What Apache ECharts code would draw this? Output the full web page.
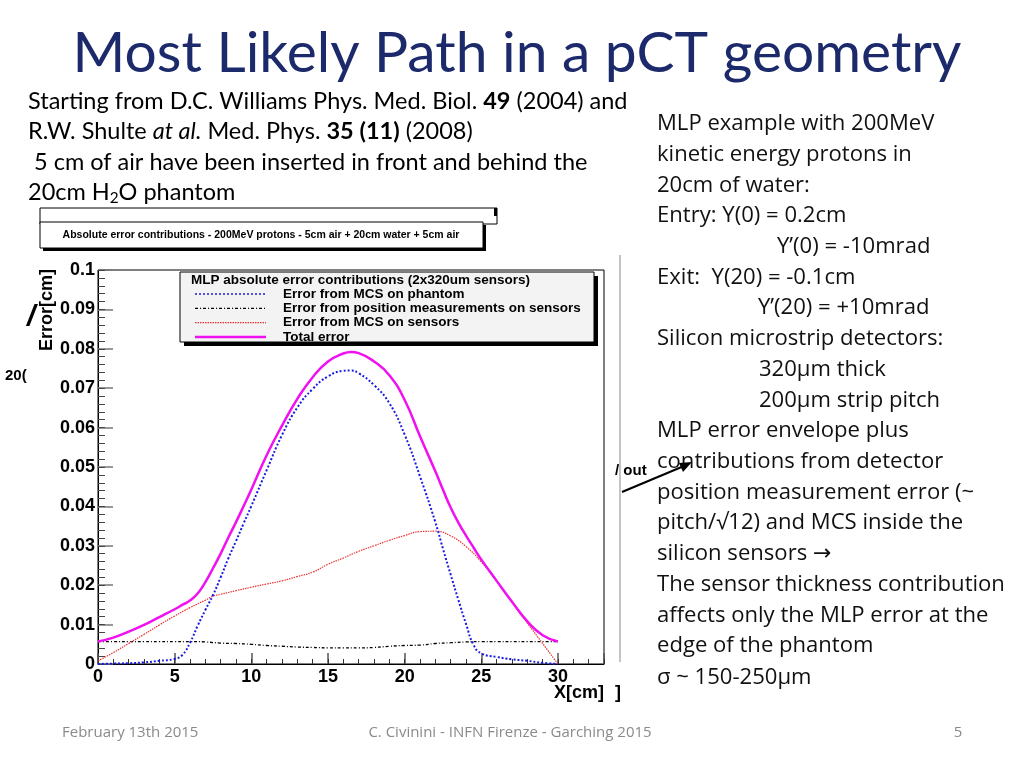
<!DOCTYPE html>
<html><head><meta charset="utf-8">
<script src="https://cdn.jsdelivr.net/npm/echarts@6/dist/echarts.min.js"></script>
<style>html,body{margin:0;padding:0;background:#fff}#c{width:1024px;height:768px}</style>
</head><body><div id="c"></div>
<script>
// ---- data (x in cm, errors in cm) ----
const xCm = [0,1,2,3,4,5,5.5,6,6.5,7,7.5,8,8.5,9,9.5,10,11,12,13,14,15,16,16.5,17,18,19,20,21,22,22.5,23,23.5,24,24.5,25,26,27,28,29,30];
const totalError = [0.0057,0.0067,0.0082,0.0099,0.0119,0.0139,0.0150,0.0161,0.0179,0.0208,0.0243,0.0280,0.0321,0.0360,0.0401,0.0443,0.0530,0.0605,0.0673,0.0728,0.0768,0.0788,0.0792,0.0789,0.0768,0.0733,0.0670,0.0578,0.0489,0.0442,0.0397,0.0359,0.0326,0.0295,0.0265,0.0211,0.0158,0.0108,0.0073,0.0057];
const phantomMCS = [0,0.0001,0.0002,0.0004,0.0008,0.0013,0.0023,0.0054,0.0097,0.0137,0.0175,0.0220,0.0268,0.0312,0.0357,0.0401,0.0492,0.0581,0.0651,0.0698,0.0730,0.0744,0.0745,0.0738,0.0708,0.0662,0.0582,0.0476,0.0360,0.0292,0.0227,0.0163,0.0102,0.0048,0.0027,0.0018,0.0012,0.0008,0.0003,0];
const posMeas = [0.0057,0.0057,0.0057,0.0057,0.0057,0.0057,null,0.0057,null,0.0056,null,0.0053,null,0.0052,null,0.0050,0.0047,0.0045,0.0043,0.0042,0.0041,0.0041,null,0.0041,0.0042,0.0045,0.0047,0.0048,0.0052,null,0.0054,null,0.0056,null,0.0057,0.0057,0.0057,0.0057,0.0057,0.0057];
const sensorMCS = [0.0008,0.0029,0.0052,0.0075,0.0099,0.0122,null,0.0143,null,0.0162,0.0172,0.0177,null,0.0186,null,0.0195,0.0203,0.0211,0.0222,0.0233,0.0253,0.0269,null,0.0286,0.0300,0.0314,0.0326,0.0336,0.0337,null,0.0325,null,0.0298,null,0.0259,0.0210,0.0157,0.0104,0.0052,0.0000];
const seriesNames = ['Error from MCS on phantom','Error from position measurements on sensors','Error from MCS on sensors','Total error'];
const xTicks = [0,5,10,15,20,25,30];

function pairs(arr){ const out=[]; arr.forEach((v,i)=>{ if(v!==null) out.push([xCm[i],v]); }); return out; }

const ctx = document.createElement('canvas').getContext('2d');
function measure(text, font){ ctx.font = font; return ctx.measureText(text).width; }
function fitSize(text, weight, family, target){ return 100*target/measure(text, weight+' 100px '+family); }

const TF = 'Lato';
const titleSize = fitSize('Most Likely Path in a pCT geometry','normal',TF,889);
const LF = 'Lato';
const leftSize = fitSize('Starting from D.C. Williams Phys. Med. Biol. 49 (2004) and','normal',LF,600);
const RF = "'Open Sans', 'DejaVu Sans'";
const rightSize = fitSize('The sensor thickness contribution','normal',RF,348);
const CF = "'Liberation Sans', Arial, sans-serif";

function T(text, x, y, font, fill, align, extra){
  return Object.assign({type:'text', x:x, y:y, z:100, silent:true,
    style:{text:text, font:font, fill:fill||'#000', align:align||'left', textAlign:align||'left', verticalAlign:'middle', textVerticalAlign:'middle'}}, extra||{});
}

const g = [];
// slide title
g.push(T('Most Likely Path in a pCT geometry', 517, 54, `normal ${titleSize}px ${TF}`, '#1c2a6b', 'center'));
// left paragraph
const lf = `${leftSize}px ${LF}`;
g.push({type:'text', x:28, y:101, z:100, style:{text:'Starting from D.C. Williams Phys. Med. Biol. {b|49} (2004) and', font:lf, fontSize:leftSize, fontFamily:LF, fill:'#000', verticalAlign:'middle', textVerticalAlign:'middle', rich:{b:{fontWeight:'bold', fontSize:leftSize, fontFamily:LF, fill:'#000'}}}});
g.push({type:'text', x:28, y:131, z:100, style:{text:'R.W. Shulte {i|at al.} Med. Phys. {b|35 (11)} (2008)', font:lf, fontSize:leftSize, fontFamily:LF, fill:'#000', verticalAlign:'middle', textVerticalAlign:'middle', rich:{b:{fontWeight:'bold', fontSize:leftSize, fontFamily:LF, fill:'#000'}, i:{fontStyle:'italic', fontSize:leftSize, fontFamily:LF, fill:'#000'}}}});
g.push(T(' 5 cm of air have been inserted in front and behind the', 28, 162, lf));
const w1 = measure('20cm H', lf);
const subFont = `${leftSize*0.65}px ${LF}`;
const w2 = measure('2', subFont);
g.push(T('20cm H', 28, 192, lf));
g.push(T('2', 28+w1, 198, subFont));
g.push(T('O phantom', 28+w1+w2, 192, lf));

// right paragraph
const rf = `${rightSize}px ${RF}`;
const rightLines = [
 ['MLP example with 200MeV',657,124],['kinetic energy protons in',657,155],['20cm of water:',657,186],
 ['Entry: Y(0) = 0.2cm',657,216],['Y’(0) = -10mrad',777,247],['Exit:  Y(20) = -0.1cm',657,278],
 ['Y’(20) = +10mrad',758,308],['Silicon microstrip detectors:',657,339],['320μm thick',759,370],
 ['200μm strip pitch',759,401],['MLP error envelope plus',657,431],['contributions from detector',657,462],
 ['position measurement error (~',657,493],['pitch/√12) and MCS inside the',657,523],['silicon sensors →',657,554],
 ['The sensor thickness contribution',657,585],['affects only the MLP error at the',657,616],['edge of the phantom',657,646],
 ['σ ~ 150-250μm',657,678]
];
rightLines.forEach(l=>g.push(T(l[0], l[1], l[2], rf, '#111')));

// footer
g.push(T('February 13th 2015', 62, 733, `15px ${RF}`, '#8a8a8a'));
g.push(T('C. Civinini - INFN Firenze - Garching 2015', 510, 733, `15px ${RF}`, '#8a8a8a', 'center'));
g.push(T('5', 958, 733, `15px ${RF}`, '#8a8a8a', 'center'));

// partial box behind the chart title
g.push({type:'rect', z:90, shape:{x:40,y:208,width:457,height:16}, style:{fill:'#fff', stroke:'#000', lineWidth:1}});
g.push({type:'rect', z:91, shape:{x:494,y:208,width:3,height:8}, style:{fill:'#000'}});
// chart title box
g.push({type:'rect', z:92, shape:{x:43,y:225,width:443,height:26}, style:{fill:'#000'}});
g.push({type:'rect', z:93, shape:{x:40,y:222,width:443,height:26}, style:{fill:'#fff', stroke:'#000', lineWidth:1}});
g.push(T('Absolute error contributions - 200MeV protons - 5cm air + 20cm water + 5cm air', 261, 235, `bold 10.5px ${CF}`, '#000', 'center'));

// axis titles
g.push(T('Error[cm]', 47, 310, `bold 18px ${CF}`, '#000', 'center', {rotation:Math.PI/2}));
g.push(T('X[cm]', 579, 693, `bold 18px ${CF}`, '#000', 'center'));
g.push(T(']', 618, 693, `bold 18px ${CF}`, '#000', 'center'));

// legend box
g.push({type:'rect', z:94, shape:{x:184,y:276,width:414,height:70}, style:{fill:'#000'}});
g.push({type:'rect', z:95, shape:{x:180,y:272,width:414,height:70}, style:{fill:'#f3f3f3', stroke:'#000', lineWidth:1}});
g.push(T('MLP absolute error contributions (2x320um sensors)', 191, 280, `bold 13.5px ${CF}`));
const legStyles = [
  {stroke:'#1a1ae0', lineWidth:1.5, lineDash:[2,2]},
  {stroke:'#000', lineWidth:1.2, lineDash:[3,2,1,2]},
  {stroke:'#e83030', lineWidth:1.2, lineDash:[1.5,1]},
  {stroke:'#f010f0', lineWidth:2.5}
];
seriesNames.forEach((n,i)=>{
  const y = 294 + i*14.3;
  g.push({type:'line', z:100, shape:{x1:195,y1:y,x2:266,y2:y}, style:legStyles[i]});
  g.push(T(n, 283, y, `bold 13.5px ${CF}`));
});

// artifacts of overlapping images on the slide
g.push({type:'line', z:80, shape:{x1:620,y1:255,x2:620,y2:662}, style:{stroke:'#888', lineWidth:1}});
g.push(T('/ out', 615, 471, `bold 15px ${CF}`));
g.push({type:'line', z:100, shape:{x1:622,y1:492,x2:684,y2:466}, style:{stroke:'#000', lineWidth:2}});
g.push({type:'polygon', z:100, shape:{points:[[692,462],[679,463],[683,472]]}, style:{fill:'#000'}});
g.push(T('/', 27, 318, `italic bold 30px ${CF}`));
g.push(T('20(', 5, 376, `bold 15px ${CF}`));

const axisFont = {fontFamily:'Liberation Sans', fontWeight:'bold', fontSize:18, color:'#000'};

const option = {
  animation:false,
  backgroundColor:'#fff',
  grid:{left:98, right:420, top:270, bottom:104, show:true, borderColor:'#000', borderWidth:1, backgroundColor:'transparent'},
  xAxis:[
    {type:'value', min:0, max:33, interval:5, position:'bottom',
     axisLine:{show:true, onZero:false, lineStyle:{color:'#000', width:1}},
     axisTick:{show:true, inside:true, length:11, lineStyle:{color:'#555', width:1.5}},
     axisLabel:{...axisFont, margin:4, formatter:v=> xTicks.includes(v)?String(v):''},
     splitLine:{show:false}},
    {type:'value', min:0, max:33, interval:1, position:'bottom',
     axisLine:{show:false}, axisTick:{show:true, inside:true, length:5, lineStyle:{color:'#333', width:1}},
     axisLabel:{show:false}, splitLine:{show:false}}
  ],
  yAxis:[
    {type:'value', min:0, max:0.1, interval:0.01, position:'left',
     axisLine:{show:true, onZero:false, lineStyle:{color:'#000', width:1}},
     axisTick:{show:true, inside:true, length:15, lineStyle:{color:'#777', width:1.5}},
     axisLabel:{...axisFont, margin:3, formatter:v=> v===0?'0':String(+v.toFixed(2))},
     splitLine:{show:false}},
    {type:'value', min:0, max:0.1, interval:0.002, position:'left',
     axisLine:{show:false}, axisTick:{show:true, inside:true, length:7, lineStyle:{color:'#444', width:1}},
     axisLabel:{show:false}, splitLine:{show:false}}
  ],
  series:[
    {name:seriesNames[0], type:'line', data:pairs(phantomMCS), showSymbol:false, smooth:0.5, connectNulls:true, z:3,
     lineStyle:{color:'#1a1ae0', width:2, type:[2,2]}},
    {name:seriesNames[1], type:'line', data:pairs(posMeas), showSymbol:false, smooth:0.5, connectNulls:true, z:2,
     lineStyle:{color:'#000', width:1.3, type:[3,2,1,2]}},
    {name:seriesNames[2], type:'line', data:pairs(sensorMCS), showSymbol:false, smooth:0.5, connectNulls:true, z:2,
     lineStyle:{color:'#e83030', width:1.2, type:[1.5,1]}},
    {name:seriesNames[3], type:'line', data:pairs(totalError), showSymbol:false, smooth:0.5, connectNulls:true, z:4,
     lineStyle:{color:'#f010f0', width:2.5}}
  ],
  graphic:{elements:g}
};
const chart = echarts.init(document.getElementById('c'), null, {renderer:'canvas'});
chart.setOption(option);
</script></body></html>
